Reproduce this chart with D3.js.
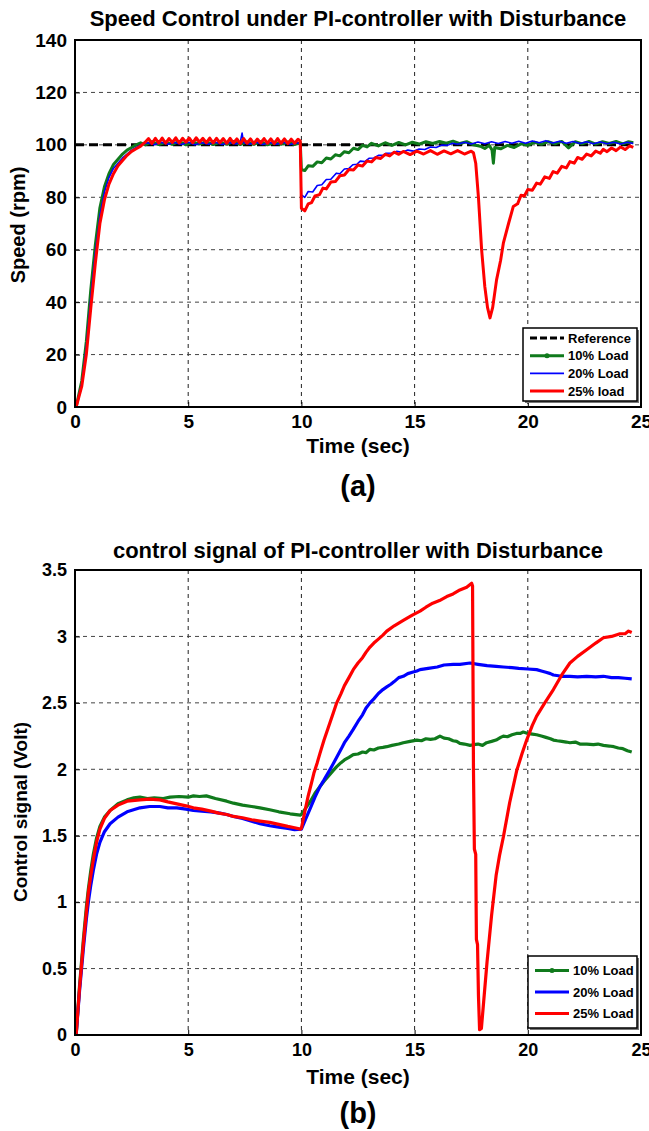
<!DOCTYPE html>
<html><head><meta charset="utf-8">
<script src="https://cdn.jsdelivr.net/npm/d3@7"></script>
<style>
html,body{margin:0;padding:0;background:#fff;}
text{font-family:"Liberation Sans",Arial,Helvetica,sans-serif;font-weight:bold;fill:#000;}
</style></head>
<body><svg id="chart" width="649" height="1131"></svg>
<script>
// ---------- DATA ----------
const xTicks = [0,5,10,15,20,25];
const speedTicks = [0,20,40,60,80,100,120,140];
const ctrlTicks = [0,0.5,1,1.5,2,2.5,3,3.5];
const ctrlTickLabels = ["0","0.5","1","1.5","2","2.5","3","3.5"];

const speedRef = [[0,100],[24.66,100]];
const speed10 = [[0.05,0],[0.3,10],[0.5,25],[0.7,45],[0.9,62],[1.1,76],[1.3,84],[1.5,89],[1.7,92.5],[1.9,94.5],[2.1,96.5],[2.3,98],[2.5,99],[2.7,100],[2.9,100.8],[3.1,100],
[3.4,101.2],[3.7,100.1],[4.0,101],[4.3,100.2],[4.6,101.3],[4.9,100],[5.2,101.1],[5.5,100.3],[5.8,101.2],[6.1,100.1],[6.4,101],[6.7,100.2],[7.0,101.3],[7.3,100.1],[7.6,101.1],[7.9,100.2],[8.2,101.2],[8.5,100],[8.8,101],[9.1,100.2],[9.4,101.1],[9.7,100.1],[9.95,100.8],
[10.0,90.5],[10.15,90.2],[10.3,92],[10.5,91.8],[10.7,93.5],[10.9,93.2],[11.1,95],[11.3,94.6],[11.5,96.2],[11.7,95.8],[11.9,97.4],[12.1,97],[12.3,98.7],[12.5,98.2],[12.7,99.8],[12.9,99.2],[13.1,100.6],[13.4,99.6],[13.7,100.8],[14.0,99.8],[14.3,100.9],[14.6,100],[14.9,101],[15.2,100.3],[15.5,101.2],[15.8,100.5],[16.1,101.3],[16.4,100.6],[16.7,101.4],[17.0,100.5],[17.3,101.2],[17.6,100],[17.9,99.5],[18.1,98.6],[18.3,99.8],[18.42,98],[18.48,93],[18.54,99],[18.8,98.5],[19.1,99.8],[19.4,99],[19.7,100.4],[20.0,99.8],[20.3,101],[20.6,100.2],[20.9,101.2],[21.2,100.4],[21.5,101.3],[21.8,98.8],[22.1,101.2],[22.4,100.4],[22.7,101.3],[23.0,100.3],[23.3,101.2],[23.6,100.5],[23.9,101.3],[24.2,100.4],[24.45,101.2],[24.66,100.8]];
const speed20 = [[0.05,0],[0.3,9],[0.5,23],[0.7,42],[0.9,59],[1.1,73],[1.3,82],[1.5,87.5],[1.7,91],[1.9,93],[2.1,95],[2.3,96.5],[2.5,98],[2.7,99],[2.9,100],[3.2,100.8],[3.5,100],[3.8,101],[4.1,100.2],[4.4,100.9],[4.7,100.1],[5.0,101],[5.3,100],[5.6,100.8],[5.9,100.2],[6.2,101],[6.5,100.1],[6.8,100.9],[7.1,100.3],[7.3,101],[7.38,104.5],[7.45,100.8],[7.7,100.2],[8.0,101],[8.3,100.1],[8.6,100.9],[8.9,100.2],[9.2,101],[9.5,100.1],[9.8,100.8],[9.95,100.4],
[10.0,80.9],[10.15,80],[10.3,82.2],[10.5,82],[10.7,84.5],[10.9,84.8],[11.1,86.8],[11.3,86.9],[11.54,89.2],[11.7,89],[11.9,90.8],[12.1,91],[12.27,92.4],[12.45,92.6],[12.6,93.8],[12.8,93.6],[13.0,94.9],[13.2,95],[13.4,96],[13.6,96],[13.74,96.8],[14.0,96.9],[14.2,97.5],[14.45,97.2],[14.7,98],[14.95,97.6],[15.2,98.4],[15.45,98.2],[15.7,99.2],[15.95,99],[16.2,99.9],[16.45,99.8],[16.67,100.6],[16.9,100.2],[17.2,101],[17.5,100.3],[17.8,101.1],[18.1,100.4],[18.4,101.2],[18.7,100.5],[19.0,101.3],[19.3,100.6],[19.6,101.4],[19.9,100.6],[20.2,101.5],[20.5,100.8],[20.8,101.6],[21.1,100.7],[21.4,101.4],[21.7,100.6],[22.0,101.3],[22.3,100.5],[22.6,101.2],[22.9,100.4],[23.2,101.1],[23.5,100.4],[23.8,101],[24.1,100.3],[24.4,101],[24.66,100.5]];
const speed25 = [[0.05,0],[0.3,8],[0.5,20],[0.7,38],[0.9,55],[1.1,70],[1.3,79],[1.5,85],[1.7,89],[1.9,92],[2.1,94],[2.3,96],[2.5,97.5],[2.7,98.5],[2.9,99.5],[3.1,101],
[3.25,102.4],[3.4,100.5],[3.55,102.5],[3.7,100.7],[3.85,102.6],[4.0,100.6],[4.15,102.4],[4.3,100.9],[4.45,102.7],[4.6,100.7],[4.75,102.5],[4.9,101],[5.05,102.6],[5.2,100.8],[5.35,102.7],[5.5,101],[5.65,102.5],[5.8,100.8],[5.95,102.6],[6.1,100.7],[6.25,102.5],[6.4,100.8],[6.55,102.4],[6.7,100.6],[6.85,102.5],[7.0,100.7],[7.15,102.3],[7.3,100.5],[7.45,102.4],[7.6,100.6],[7.75,102.3],[7.9,100.5],[8.05,102.2],[8.2,100.7],[8.35,102.4],[8.5,100.6],[8.65,102.3],[8.8,100.5],[8.95,102.4],[9.1,100.6],[9.25,102.3],[9.4,100.5],[9.55,102.2],[9.7,100.6],[9.85,102.1],[9.95,101.5],
[10.0,75.8],[10.15,74.8],[10.3,77.5],[10.45,78],[10.6,80.5],[10.8,81],[10.95,83.5],[11.1,83.2],[11.3,85.8],[11.5,86],[11.7,88.2],[11.9,88.5],[12.1,90.6],[12.3,90.4],[12.5,92.3],[12.7,91.9],[12.9,93.8],[13.1,93.5],[13.3,95.2],[13.5,94.8],[13.7,96.4],[13.9,95.8],[14.1,97.2],[14.3,96.4],[14.5,97.5],[14.8,96.3],[15.1,97.6],[15.4,96.5],[15.7,97.8],[16.0,96.4],[16.3,97.7],[16.6,96.6],[16.9,97.8],[17.2,96.5],[17.5,97.6],[17.6,97],
[17.7,93],[17.82,80],[17.96,60],[18.1,46],[18.22,38],[18.33,34],[18.45,38],[18.62,48.5],[18.8,56],[18.92,62.5],[19.15,70],[19.36,76.5],[19.55,77.5],[19.7,80.8],[19.85,80.5],[20.0,83],[20.2,82.7],[20.39,85.4],[20.55,85],[20.75,87.8],[20.95,87.2],[21.12,89.8],[21.3,89.2],[21.5,91.8],[21.7,91.2],[21.86,93.6],[22.05,93],[22.2,95.2],[22.4,94.5],[22.6,96.5],[22.8,95.8],[23.0,97.6],[23.2,96.8],[23.33,98.3],[23.5,97.4],[23.7,98.8],[23.9,97.8],[24.1,99.2],[24.3,98.2],[24.5,99.6],[24.66,99]];

const ctrl10 = [[0.05,0],[0.2,0.37],[0.37,0.72],[0.5,0.96],[0.59,1.1],[0.7,1.24],[0.81,1.36],[0.95,1.48],[1.1,1.57],[1.3,1.64],[1.55,1.69],[1.9,1.74],[2.3,1.77],[2.6,1.785],[2.87,1.79],[3.2,1.78],[3.5,1.785],[3.9,1.78],[4.2,1.79],[4.6,1.795],[5.0,1.79],[5.23,1.8],[5.5,1.795],[5.8,1.8],[6.2,1.78],[6.7,1.76],[7.0,1.745],[7.4,1.73],[7.8,1.72],[8.17,1.71],[8.6,1.695],[9.0,1.68],[9.5,1.665],[9.95,1.655],
[10.0,1.66],[10.2,1.71],[10.4,1.76],[10.6,1.82],[10.82,1.87],[11.0,1.91],[11.2,1.95],[11.4,1.99],[11.56,2.02],[11.75,2.05],[11.9,2.07],[12.1,2.09],[12.29,2.11],[12.5,2.115],[12.7,2.13],[12.85,2.125],[13.03,2.15],[13.2,2.145],[13.4,2.16],[13.6,2.165],[13.77,2.17],[14.0,2.18],[14.3,2.19],[14.5,2.2],[14.8,2.21],[15.1,2.22],[15.3,2.215],[15.5,2.23],[15.7,2.225],[15.9,2.23],[16.12,2.25],[16.3,2.235],[16.5,2.23],[16.7,2.215],[16.86,2.21],[17.0,2.195],[17.2,2.19],[17.45,2.18],[17.6,2.185],[17.8,2.19],[18.0,2.18],[18.18,2.2],[18.4,2.21],[18.6,2.22],[18.8,2.24],[18.92,2.25],[19.1,2.245],[19.3,2.26],[19.5,2.27],[19.66,2.27],[19.8,2.28],[20.0,2.27],[20.2,2.265],[20.39,2.26],[20.6,2.25],[20.8,2.24],[21.0,2.23],[21.13,2.22],[21.3,2.215],[21.5,2.21],[21.7,2.205],[21.86,2.2],[22.1,2.205],[22.3,2.19],[22.6,2.19],[22.9,2.185],[23.1,2.19],[23.34,2.18],[23.6,2.175],[23.8,2.17],[24.0,2.16],[24.2,2.155],[24.4,2.14],[24.59,2.13]];
const ctrl20 = [[0.05,0],[0.2,0.33],[0.37,0.65],[0.5,0.87],[0.59,1.0],[0.7,1.13],[0.81,1.24],[0.95,1.36],[1.1,1.45],[1.3,1.53],[1.55,1.59],[1.9,1.64],[2.3,1.68],[2.87,1.71],[3.3,1.72],[3.75,1.72],[4.1,1.71],[4.5,1.71],[4.9,1.7],[5.23,1.69],[5.6,1.685],[6.0,1.68],[6.4,1.67],[6.7,1.66],[7.0,1.645],[7.4,1.63],[7.8,1.61],[8.17,1.59],[8.6,1.575],[9.0,1.565],[9.4,1.555],[9.7,1.545],
[10.0,1.55],[10.2,1.63],[10.4,1.71],[10.6,1.79],[10.82,1.87],[11.0,1.92],[11.2,1.98],[11.4,2.04],[11.56,2.09],[11.75,2.15],[11.9,2.2],[12.1,2.25],[12.29,2.3],[12.5,2.36],[12.7,2.41],[12.85,2.46],[13.03,2.5],[13.2,2.53],[13.4,2.57],[13.6,2.6],[13.77,2.62],[13.95,2.64],[14.1,2.66],[14.3,2.69],[14.5,2.7],[14.7,2.72],[14.9,2.73],[15.1,2.74],[15.24,2.75],[15.6,2.76],[16.0,2.77],[16.3,2.785],[16.71,2.79],[17.0,2.79],[17.45,2.8],[17.8,2.79],[18.2,2.78],[18.6,2.775],[18.92,2.77],[19.3,2.765],[19.6,2.76],[20.0,2.755],[20.39,2.75],[20.6,2.74],[20.8,2.73],[21.0,2.72],[21.13,2.71],[21.5,2.7],[21.86,2.7],[22.2,2.695],[22.6,2.7],[23.0,2.695],[23.34,2.7],[23.7,2.69],[24.0,2.69],[24.3,2.685],[24.59,2.68]];
const ctrl25 = [[0.05,0],[0.2,0.35],[0.37,0.69],[0.5,0.92],[0.59,1.07],[0.7,1.2],[0.81,1.32],[0.95,1.45],[1.1,1.55],[1.3,1.63],[1.55,1.69],[1.9,1.73],[2.3,1.76],[2.87,1.77],[3.3,1.775],[3.75,1.77],[4.1,1.755],[4.5,1.74],[4.9,1.725],[5.23,1.71],[5.6,1.7],[6.0,1.685],[6.35,1.67],[6.7,1.66],[7.0,1.645],[7.4,1.635],[7.8,1.62],[8.17,1.61],[8.6,1.6],[9.0,1.585],[9.4,1.57],[9.7,1.56],[9.95,1.55],
[10.0,1.556],[10.15,1.68],[10.3,1.8],[10.45,1.9],[10.55,1.97],[10.7,2.05],[10.82,2.12],[11.0,2.22],[11.2,2.32],[11.4,2.42],[11.56,2.5],[11.75,2.57],[11.9,2.63],[12.1,2.69],[12.29,2.75],[12.5,2.8],[12.7,2.84],[12.85,2.88],[13.03,2.92],[13.2,2.95],[13.4,2.98],[13.6,3.01],[13.77,3.04],[14.1,3.08],[14.5,3.12],[14.9,3.16],[15.24,3.19],[15.5,3.22],[15.8,3.25],[16.1,3.27],[16.42,3.3],[16.7,3.32],[17.0,3.35],[17.3,3.37],[17.52,3.4],[17.56,3.38],[17.6,2.0],[17.64,1.4],[17.7,1.36],[17.73,0.72],[17.78,0.68],[17.82,0.3],[17.87,0.04],[17.95,0.05],[18.05,0.25],[18.2,0.55],[18.4,0.9],[18.6,1.2],[18.75,1.35],[18.92,1.49],[19.2,1.75],[19.51,1.99],[19.75,2.12],[19.95,2.22],[20.2,2.33],[20.39,2.4],[20.75,2.5],[21.13,2.6],[21.5,2.71],[21.86,2.8],[22.2,2.85],[22.6,2.9],[23.0,2.95],[23.34,2.99],[23.7,3.0],[24.07,3.02],[24.3,3.02],[24.45,3.04],[24.59,3.03]];

const legendA = ["Reference","10% Load","20% Load","25% load"];
const legendB = ["10% Load","20% Load","25% Load"];
const colGreen = "#107a1c", colBlue = "#0000ff", colRed = "#ff0000";

// ---------- DRAW ----------
const svg = d3.select("#chart");
const L = 75, R = 641;

function panel(cfg){
  const x = d3.scaleLinear().domain([0,25]).range([L,R]);
  const y = d3.scaleLinear().domain(cfg.yDomain).range([cfg.bottom,cfg.top]);
  const g = svg.append("g");
  // grid
  g.selectAll(".vg").data(xTicks.filter(t=>t>0&&t<25)).enter().append("line")
    .attr("x1",d=>x(d)).attr("x2",d=>x(d)).attr("y1",cfg.top).attr("y2",cfg.bottom)
    .attr("stroke","#222").attr("stroke-width",1).attr("stroke-dasharray","4,4");
  g.selectAll(".hg").data(cfg.yTicks.slice(1,-1)).enter().append("line")
    .attr("x1",L).attr("x2",R).attr("y1",d=>y(d)).attr("y2",d=>y(d))
    .attr("stroke","#444").attr("stroke-width",1).attr("stroke-dasharray","4,4");
  // axes
  const xa = d3.axisBottom(x).tickValues(xTicks).tickSize(-5).tickPadding(8).tickFormat(d3.format("d"));
  const ya = d3.axisLeft(y).tickValues(cfg.yTicks).tickSize(-5).tickPadding(8).tickFormat((d,i)=>cfg.yLabels[i]);
  const gx = g.append("g").attr("transform",`translate(0,${cfg.bottom})`).call(xa);
  const gy = g.append("g").attr("transform",`translate(${L},0)`).call(ya);
  [gx,gy].forEach(a=>{
    a.select(".domain").remove();
    a.selectAll("line").attr("stroke","#000").attr("stroke-width",1);
    a.selectAll("text").style("font-size",cfg.tickSize).style("font-family","Liberation Sans, Arial, sans-serif").style("font-weight","bold").attr("fill","#000");
  });
  gx.selectAll("text").attr("dy","0.71em");
  // lines
  const line = d3.line().x(d=>x(d[0])).y(d=>y(d[1]));
  cfg.series.forEach(s=>{
    g.append("path").datum(s.data).attr("d",line).attr("fill","none")
      .attr("stroke",s.color).attr("stroke-width",s.w).attr("stroke-linejoin","round")
      .attr("stroke-dasharray",s.dash||null);
  });
  // box
  g.append("rect").attr("x",L).attr("y",cfg.top).attr("width",R-L).attr("height",cfg.bottom-cfg.top)
    .attr("fill","none").attr("stroke","#000").attr("stroke-width",2);
  // titles
  svg.append("text").attr("x",358).attr("y",cfg.titleY).attr("text-anchor","middle")
    .style("font-size","22px").text(cfg.title);
  svg.append("text").attr("x",358).attr("y",cfg.xlabY).attr("text-anchor","middle")
    .style("font-size","21px").text("Time (sec)");
  svg.append("text").attr("transform",`translate(${cfg.ylabX},${cfg.ylabY}) rotate(-90)`)
    .attr("text-anchor","middle").style("font-size",cfg.ylabSize).text(cfg.ylab);
  svg.append("text").attr("x",358).attr("y",cfg.capY).attr("text-anchor","middle")
    .style("font-size","29px").text(cfg.cap);
  // legend
  const lg = cfg.legend;
  g.append("rect").attr("x",lg.x+2).attr("y",lg.y+2).attr("width",lg.w).attr("height",lg.h)
    .attr("fill","#777");
  g.append("rect").attr("x",lg.x).attr("y",lg.y).attr("width",lg.w).attr("height",lg.h)
    .attr("fill","#fff").attr("stroke","#000").attr("stroke-width",1.5);
  lg.items.forEach((it,i)=>{
    const yy = lg.y + lg.first + i*lg.step;
    g.append("line").attr("x1",lg.x+7).attr("x2",lg.x+41).attr("y1",yy).attr("y2",yy)
      .attr("stroke",it.color).attr("stroke-width",it.lw).attr("stroke-dasharray",it.dash||null);
    if(it.marker) g.append("circle").attr("cx",lg.x+24).attr("cy",yy).attr("r",2.5).attr("fill",it.color);
    g.append("text").attr("x",lg.x+45).attr("y",yy).attr("dy","0.35em")
      .style("font-size","13px").text(it.label);
  });
}

panel({
  top:40, bottom:407, yDomain:[0,140], yTicks:speedTicks, yLabels:speedTicks.map(String), tickSize:"19px",
  title:"Speed Control under PI-controller with Disturbance", titleY:26, xlabY:453,
  ylab:"Speed (rpm)", ylabX:25, ylabY:225, ylabSize:"20px", cap:"(a)", capY:496,
  series:[
    {data:speedRef,color:"#000",w:3,dash:"9,5"},
    {data:speed10,color:colGreen,w:3},
    {data:speed20,color:colBlue,w:1.6},
    {data:speed25,color:colRed,w:3}
  ],
  legend:{x:523,y:328,w:114,h:73,first:10,step:17.7,items:[
    {label:legendA[0],color:"#000",lw:3,dash:"7,3"},
    {label:legendA[1],color:colGreen,lw:3,marker:true},
    {label:legendA[2],color:colBlue,lw:1.6},
    {label:legendA[3],color:colRed,lw:3}
  ]}
});

panel({
  top:570, bottom:1035, yDomain:[0,3.5], yTicks:ctrlTicks, yLabels:ctrlTickLabels, tickSize:"18px",
  title:"control signal of PI-controller with Disturbance", titleY:558, xlabY:1084,
  ylab:"Control signal (Volt)", ylabX:27, ylabY:812, ylabSize:"19px", cap:"(b)", capY:1123,
  series:[
    {data:ctrl10,color:colGreen,w:3.2},
    {data:ctrl20,color:colBlue,w:3.2},
    {data:ctrl25,color:colRed,w:3.2}
  ],
  legend:{x:528,y:956,w:109,h:72,first:14.5,step:21.5,items:[
    {label:legendB[0],color:colGreen,lw:3,marker:true},
    {label:legendB[1],color:colBlue,lw:3},
    {label:legendB[2],color:colRed,lw:3}
  ]}
});
</script></body></html>
